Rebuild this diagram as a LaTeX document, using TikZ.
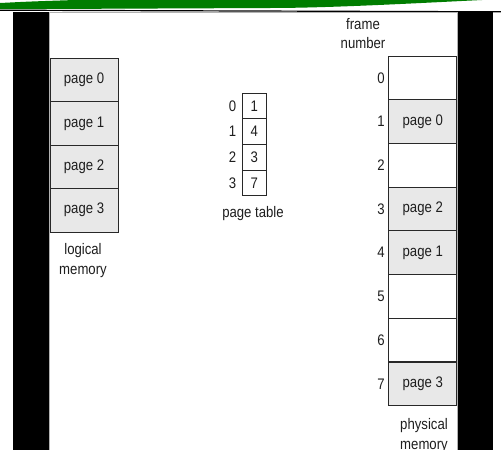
\documentclass[tikz,border=0pt]{standalone}
\usepackage{fontspec}
\setmainfont{Liberation Sans}[FakeStretch=0.86]
\definecolor{slidegreen}{RGB}{0,125,0}
\definecolor{cellgray}{RGB}{232,232,232}
\definecolor{linegray}{RGB}{40,40,40}
\definecolor{textgray}{RGB}{30,30,30}
\begin{document}
\begin{tikzpicture}[x=1pt,y=-1pt,
  every node/.style={font=\fontsize{15.3}{19.3}\selectfont, text=textgray},
  memcell/.style={draw=linegray, line width=0.9pt, rectangle, inner sep=0pt,
    minimum width=68pt, minimum height=43.6pt},
  usedcell/.style={memcell, fill=cellgray},
  freecell/.style={memcell, fill=white},
  ptcell/.style={draw=linegray, line width=0.9pt, rectangle, inner sep=0pt,
    minimum width=23.7pt, minimum height=25.6pt, fill=white},
  idxlabel/.style={anchor=east, inner sep=0pt},
  caption/.style={align=center, inner sep=0pt}]
\useasboundingbox (0,0) rectangle (501,450);
% slide decoration
\fill[white] (0,0) rectangle (501,450);
\fill[slidegreen] (0,3) .. controls (30,1.5) .. (75,0) -- (482,0)
  .. controls (420,3) and (330,8) .. (270,8) -- (0,9.2) -- cycle;
\draw[line width=1.2pt, black] (0,10.2) -- (501,11.8);
\fill[black] (13,12.3) rectangle (48.5,450);
\fill[black] (457.5,12.3) rectangle (493,450);
\draw[gray!60, line width=0.6pt] (48.8,450) -- (48.8,12.6) -- (457.2,12.6) -- (457.2,450);
% logical memory
\node[usedcell] (l0) at (84,80.0) {page 0};
\node[usedcell] (l1) at (84,123.4) {page 1};
\node[usedcell] (l2) at (84,166.8) {page 2};
\node[usedcell] (l3) at (84,210.2) {page 3};
\node[caption] (lcap) at (83,260.5) {logical\\memory};
% page table
\node[ptcell] (p0) at (254.2,106.1) {1};
\node[ptcell] (p1) at (254.2,131.7) {4};
\node[ptcell] (p2) at (254.2,157.3) {3};
\node[ptcell] (p3) at (254.2,182.9) {7};
\node[idxlabel] (i0) at (236.5,106.1) {0};
\node[idxlabel] (i1) at (236.5,131.7) {1};
\node[idxlabel] (i2) at (236.5,157.3) {2};
\node[idxlabel] (i3) at (236.5,182.9) {3};
\node[caption] (ptcap) at (253,213.5) {page table};
% physical memory
\node[caption] (fcap) at (363,33.5) {frame\\number};
\node[freecell] (f0) at (422.8,77.85) {};
\node[usedcell] (f1) at (422.8,121.55) {page 0};
\node[freecell] (f2) at (422.8,165.25) {};
\node[usedcell] (f3) at (422.8,208.95) {page 2};
\node[usedcell] (f4) at (422.8,252.65) {page 1};
\node[freecell] (f5) at (422.8,296.35) {};
\node[freecell] (f6) at (422.8,340.05) {};
\node[usedcell] (f7) at (422.8,383.75) {page 3};
\node[idxlabel] (n0) at (384.8,77.85) {0};
\node[idxlabel] (n1) at (384.8,121.55) {1};
\node[idxlabel] (n2) at (384.8,165.25) {2};
\node[idxlabel] (n3) at (384.8,208.95) {3};
\node[idxlabel] (n4) at (384.8,252.65) {4};
\node[idxlabel] (n5) at (384.8,296.35) {5};
\node[idxlabel] (n6) at (384.8,340.05) {6};
\node[idxlabel] (n7) at (384.8,383.75) {7};
\node[caption] (pcap) at (424,435.5) {physical\\memory};
\end{tikzpicture}
\end{document}
